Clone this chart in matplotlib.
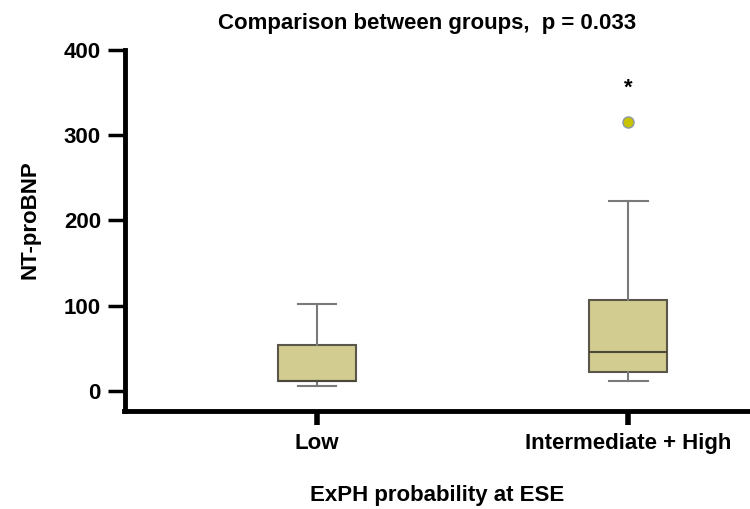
import numpy as np
import matplotlib.pyplot as plt

plt.rcParams['font.family'] = ['Liberation Sans', 'DejaVu Sans']

# data
groups = ['Low', 'Intermediate + High']
whisker_low = [6, 12]
q1 = [12, 22]
medians = [12, 46]
q3 = [54, 107]
whisker_high = [102, 223]
outliers = [[], [315]]
star_y = 355

stats = []
for i in range(len(groups)):
    stats.append({
        'label': groups[i],
        'whislo': whisker_low[i],
        'q1': q1[i],
        'med': medians[i],
        'q3': q3[i],
        'whishi': whisker_high[i],
        'fliers': outliers[i],
    })

fig = plt.figure(figsize=(7.5, 5.09), dpi=100)
ax = fig.add_axes([0.166, 0.1925, 0.834, 0.7095])

ax.bxp(stats, positions=[1, 2], widths=0.25, patch_artist=True,
       boxprops=dict(facecolor='#D2CC90', edgecolor='#5a574a', linewidth=1.5),
       medianprops=dict(color='#4a4838', linewidth=1.5),
       whiskerprops=dict(color='#7a7a7a', linewidth=1.5),
       capprops=dict(color='#7a7a7a', linewidth=1.5),
       flierprops=dict(marker='o', markerfacecolor='#C9C200',
                       markeredgecolor='#8a9aa8', markersize=8))

ax.text(2, star_y, '*', ha='center', va='center', fontsize=16, fontweight='bold')

ax.set_xlim(0.381, 2.392)
ax.set_ylim(-23.5, 400)
ax.set_yticks([0, 100, 200, 300, 400])
ax.set_xticks([1, 2])
ax.set_xticklabels(groups)

for s in ['top', 'right']:
    ax.spines[s].set_visible(False)
for s in ['left', 'bottom']:
    ax.spines[s].set_linewidth(3.5)
ax.tick_params(axis='y', labelsize=16, width=2.5, length=12, pad=5)
ax.tick_params(axis='x', labelsize=16, width=4, length=10, pad=6)
for lab in ax.get_xticklabels() + ax.get_yticklabels():
    lab.set_fontweight('bold')

ax.set_title('Comparison between groups,  p = 0.033', fontsize=16,
             fontweight='bold', pad=15, x=0.483)
ax.set_xlabel('ExPH probability at ESE', fontsize=16, fontweight='bold',
              labelpad=22)
ax.set_ylabel('NT-proBNP', fontsize=16, fontweight='bold')
ax.yaxis.set_label_coords(-0.135, 0.53)

fig.savefig('out.png', dpi=100)
